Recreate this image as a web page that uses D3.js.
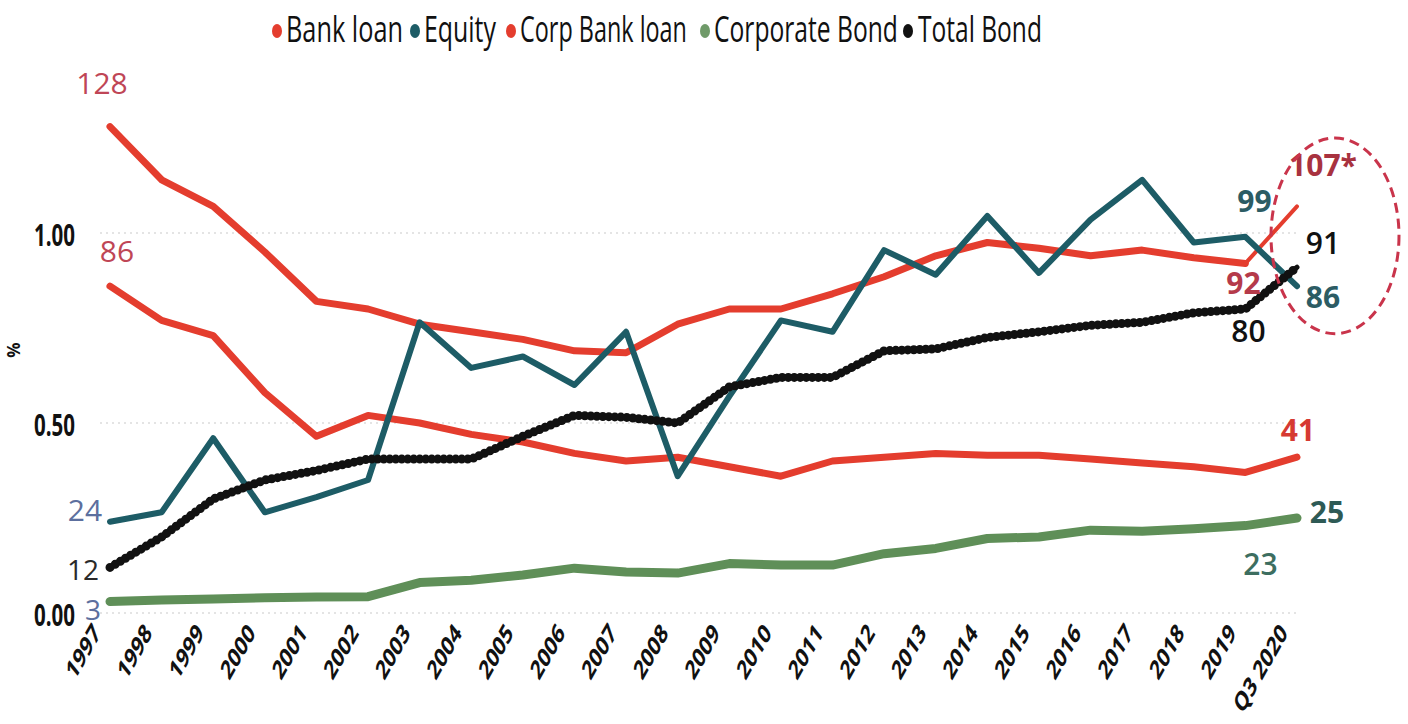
<!DOCTYPE html>
<html>
<head>
<meta charset="utf-8">
<script src="https://cdn.jsdelivr.net/npm/d3@7"></script>
<style>
  html, body { margin: 0; padding: 0; background: #fff; }
  svg { display: block; }
</style>
</head>
<body>
<svg id="chart" width="1408" height="724"></svg>
<script>
// ---- data (shares of GDP, 1.00 = 100%) ----
const categories = ["1997","1998","1999","2000","2001","2002","2003","2004","2005","2006",
  "2007","2008","2009","2010","2011","2012","2013","2014","2015","2016","2017","2018","2019","Q3 2020"];

const bankLoan = [1.28, 1.14, 1.07, 0.95, 0.82, 0.80, 0.76, 0.74, 0.72, 0.69, 0.685, 0.76,
  0.80, 0.80, 0.84, 0.885, 0.94, 0.975, 0.96, 0.94, 0.955, 0.935, 0.92, 1.07];

const corpBankLoan = [0.86, 0.77, 0.73, 0.58, 0.465, 0.52, 0.50, 0.47, 0.45, 0.42, 0.40, 0.41,
  0.385, 0.36, 0.40, 0.41, 0.42, 0.415, 0.415, 0.405, 0.395, 0.385, 0.37, 0.41];

const equity = [0.24, 0.265, 0.46, 0.265, 0.305, 0.35, 0.765, 0.645, 0.675, 0.60, 0.74, 0.36,
  0.57, 0.77, 0.74, 0.955, 0.89, 1.045, 0.895, 1.035, 1.14, 0.975, 0.99, 0.86];

const corporateBond = [0.03, 0.034, 0.037, 0.04, 0.042, 0.043, 0.08, 0.086, 0.10, 0.118, 0.108, 0.105,
  0.13, 0.126, 0.126, 0.156, 0.17, 0.196, 0.20, 0.218, 0.215, 0.222, 0.23, 0.25];

const totalBond = [0.12, 0.20, 0.30, 0.35, 0.375, 0.405, 0.405, 0.405, 0.465, 0.52, 0.515, 0.50,
  0.595, 0.62, 0.62, 0.69, 0.695, 0.725, 0.74, 0.757, 0.765, 0.79, 0.80, 0.91];

const yTicks = [0, 0.5, 1];
const legendLabels = ["Bank loan", "Equity", "Corp Bank loan", "Corporate Bond", "Total Bond"];

// ---- drawing ----
const FONT = "'Open Sans', 'Noto Sans', sans-serif";
const RED = "#e43d2e", TEAL = "#1d5c66", GREEN = "#5f8f58", BLACK = "#111111";

const svg = d3.select("#chart");
const x = d3.scalePoint().domain(categories).range([110, 1297]);
const y = d3.scaleLinear().domain([0, 1]).range([613, 233]);
const xi = i => x(categories[i]);

// squeeze a text node horizontally so it spans `width` pixels
function fitWidth(node, width) {
  const natural = node.getComputedTextLength();
  return natural > 0 ? width / natural : 1;
}

// faint dotted gridlines
svg.append("g").selectAll("line").data(yTicks).join("line")
  .attr("x1", 100).attr("x2", 1300)
  .attr("y1", d => y(d)).attr("y2", d => y(d))
  .attr("stroke", "#dcdcdc").attr("stroke-width", 1.5)
  .attr("stroke-dasharray", "2 4");

const lineFor = values => d3.line()
  .x(i => xi(i))
  .y(i => y(values[i]));
const idx = (a, b) => d3.range(a, b + 1);
const last = categories.length - 1;

const plot = svg.append("g").attr("fill", "none")
  .attr("stroke-linejoin", "round").attr("stroke-linecap", "round");

// corporate bond
plot.append("path").attr("d", lineFor(corporateBond)(idx(0, last)))
  .attr("stroke", GREEN).attr("stroke-width", 9);

// corporate bank loans
plot.append("path").attr("d", lineFor(corpBankLoan)(idx(0, last)))
  .attr("stroke", RED).attr("stroke-width", 7);

// bank loans, with the latest quarter drawn lighter
plot.append("path").attr("d", lineFor(bankLoan)(idx(0, last - 1)))
  .attr("stroke", RED).attr("stroke-width", 7);
plot.append("path").attr("d", lineFor(bankLoan)(idx(last - 1, last)))
  .attr("stroke", RED).attr("stroke-width", 4);

// equity
plot.append("path").attr("d", lineFor(equity)(idx(0, last)))
  .attr("stroke", TEAL).attr("stroke-width", 6);

// total bond: solid core with beaded dots
plot.append("path").attr("d", lineFor(totalBond)(idx(0, last)))
  .attr("stroke", BLACK).attr("stroke-width", 5);
plot.append("path").attr("d", lineFor(totalBond)(idx(0, last)))
  .attr("stroke", BLACK).attr("stroke-width", 9)
  .attr("stroke-dasharray", "0 6");

// x axis (rotated, narrow bold labels)
const xAxis = svg.append("g").call(d3.axisBottom(x).tickSize(0));
xAxis.select(".domain").remove();
xAxis.selectAll("text")
  .attr("x", 0).attr("y", 0).attr("dy", 0)
  .attr("transform", "translate(-9,634) scale(0.68,1) rotate(-50)")
  .attr("text-anchor", "end")
  .attr("fill", "#111")
  .style("font-family", FONT).style("font-size", "27px").style("font-weight", "700");

// y axis
const yAxis = svg.append("g").attr("transform", "translate(75,0)")
  .call(d3.axisLeft(y).tickValues(yTicks).tickSize(0).tickFormat(d3.format(".2f")));
yAxis.select(".domain").remove();
yAxis.selectAll("text")
  .attr("x", 0).attr("dy", "0.42em")
  .attr("text-anchor", "end")
  .attr("fill", "#111")
  .style("font-family", FONT).style("font-size", "30px").style("font-weight", "700")
  .each(function () {
    d3.select(this).attr("transform", `scale(${fitWidth(this, 41)},1)`);
  });

svg.append("text")
  .attr("transform", "translate(20,350) rotate(-90)")
  .attr("text-anchor", "middle")
  .attr("fill", "#111")
  .style("font-family", FONT).style("font-size", "17px").style("font-weight", "700")
  .text("%");

// legend
const legendColors = [RED, TEAL, RED, "#6f9a69", BLACK];
const legendLayout = [
  { dot: 277, tx: 286, w: 117 },
  { dot: 415, tx: 424, w: 72 },
  { dot: 511, tx: 520, w: 167 },
  { dot: 705, tx: 714, w: 184 },
  { dot: 908, tx: 918, w: 124 }
];
const legend = svg.append("g");
legendLabels.forEach((name, k) => {
  const L = legendLayout[k];
  legend.append("ellipse")
    .attr("cx", L.dot).attr("cy", 31).attr("rx", 5).attr("ry", 7)
    .attr("fill", legendColors[k]);
  const t = legend.append("text")
    .attr("x", 0).attr("y", 0)
    .attr("fill", "#111")
    .style("font-family", FONT).style("font-size", "36px")
    .text(name);
  t.attr("transform", `translate(${L.tx},42) scale(${fitWidth(t.node(), L.w)},1)`);
});

// value annotations
const labels = [
  { v: bankLoan, i: 0, dx: -8, dy: -43, c: "#bf4656", w: 400, s: 30 },
  { v: corpBankLoan, i: 0, dx: 7, dy: -35, c: "#bf4656", w: 400, s: 30 },
  { v: equity, i: 0, dx: -25, dy: -12, c: "#5c6f9e", w: 400, s: 30 },
  { v: totalBond, i: 0, dx: -27, dy: 3, c: "#2a2a2a", w: 400, s: 28 },
  { v: corporateBond, i: 0, dx: -17, dy: 8, c: "#5c6f9e", w: 400, s: 28 },
  { v: bankLoan, i: last, dx: 26, dy: -41, c: "#a8323f", w: 700, s: 30, suffix: "*" },
  { v: equity, i: last - 1, dx: 9, dy: -36, c: "#2c5c64", w: 700, s: 30 },
  { v: totalBond, i: last, dx: 26, dy: -24, c: "#111", w: 600, s: 30 },
  { v: bankLoan, i: last - 1, dx: -2, dy: 20, c: "#b53a4a", w: 700, s: 30 },
  { v: equity, i: last, dx: 26, dy: 11, c: "#2c5c64", w: 700, s: 30 },
  { v: totalBond, i: last - 1, dx: 3, dy: 22, c: "#111", w: 600, s: 30 },
  { v: corpBankLoan, i: last, dx: 1, dy: -27, c: "#d63a32", w: 700, s: 30 },
  { v: corporateBond, i: last, dx: 30, dy: -6, c: "#2e5a55", w: 700, s: 30 },
  { v: corporateBond, i: last - 1, dx: 15, dy: 39, c: "#3d6e60", w: 600, s: 30 }
];
svg.append("g").selectAll("text").data(labels).join("text")
  .attr("x", d => xi(d.i) + d.dx)
  .attr("y", d => y(d.v[d.i]) + d.dy)
  .attr("dy", "0.36em")
  .attr("text-anchor", "middle")
  .attr("fill", d => d.c)
  .style("font-family", FONT).style("font-size", d => d.s + "px")
  .style("font-weight", d => d.w)
  .text(d => Math.round(d.v[d.i] * 100) + (d.suffix || ""));

// dashed ring around the latest quarter
svg.append("ellipse")
  .attr("cx", xi(last) + 38)
  .attr("cy", (y(1.25) + y(0.735)) / 2)
  .attr("rx", 64)
  .attr("ry", (y(0.735) - y(1.25)) / 2)
  .attr("fill", "none")
  .attr("stroke", "#c9344b").attr("stroke-width", 3)
  .attr("stroke-dasharray", "10 6");
</script>
</body>
</html>
